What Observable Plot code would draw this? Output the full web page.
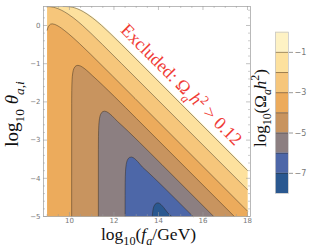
<!DOCTYPE html>
<html><head><meta charset="utf-8">
<script src="https://cdn.jsdelivr.net/npm/d3@7"></script>
<script src="https://cdn.jsdelivr.net/npm/@observablehq/plot@0.6"></script>
<style>
body{margin:0;background:#fff;}
#wrap{position:relative;width:311px;height:248px;}
#wrap svg{position:absolute;top:0;}
</style></head><body><div id="wrap"></div>
<script>
// ---- data: contours of log10(Omega_a h^2) in (log10 fa, log10 theta) ----
const xMin = 9, xMax = 18, yMin = -5, yMax = 0.497;
const cExcl = [[9.79,0.497],[9.912,0.496],[10.049,0.4914],[10.141,0.4843],[10.205,0.477],[10.301,0.4624],[10.379,0.447],[10.449,0.4314],[10.574,0.398],[10.69,0.3617],[10.86,0.301],[11.103,0.2],[11.316,0.1],[11.514,0],[11.883,-0.2],[12.41,-0.5],[13.272,-1],[18,-3.757]];
const cM1 = [[9.72,0.497],[9.844,0.496],[9.981,0.4914],[10.073,0.4843],[10.137,0.477],[10.233,0.4624],[10.311,0.447],[10.381,0.4314],[10.506,0.398],[10.622,0.3617],[10.792,0.301],[11.035,0.2],[11.248,0.1],[11.446,0],[11.815,-0.2],[12.342,-0.5],[13.204,-1],[18,-3.797]];
const cM2 = [[9,0.4958],[9.124,0.4914],[9.216,0.4843],[9.28,0.477],[9.376,0.4624],[9.454,0.447],[9.523,0.4314],[9.649,0.398],[9.765,0.3617],[9.935,0.301],[10.178,0.2],[10.391,0.1],[10.589,0],[10.958,-0.2],[11.485,-0.5],[12.347,-1],[18,-4.297]];
const cM3 = [[9,-0.122],[9.045,-0.035],[9.095,0.005],[9.145,0.033],[9.226,0.043],[9.345,0.028],[9.445,0.001],[9.545,-0.033],[9.645,-0.072],[9.795,-0.139],[9.945,-0.209],[10.195,-0.336],[10.445,-0.47],[10.945,-0.749],[11.945,-1.327],[12.945,-1.909],[18,-4.858]];
const cM4 = [[10.1,-5],[10.101,-2.048],[10.102,-1.899],[10.105,-1.702],[10.11,-1.555],[10.12,-1.413],[10.13,-1.333],[10.15,-1.238],[10.17,-1.18],[10.2,-1.126],[10.25,-1.078],[10.3,-1.054],[10.381,-1.043],[10.486,-1.058],[10.575,-1.086],[10.663,-1.122],[10.752,-1.163],[10.885,-1.232],[11.02,-1.307],[11.27,-1.439],[11.52,-1.577],[11.77,-1.718],[12.02,-1.86],[12.52,-2.149],[13.02,-2.44],[17.41,-5]];
const cM5 = [[11.3,-5],[11.301,-3.248],[11.302,-3.099],[11.305,-2.902],[11.31,-2.755],[11.32,-2.613],[11.33,-2.533],[11.35,-2.438],[11.37,-2.38],[11.4,-2.326],[11.45,-2.278],[11.5,-2.254],[11.581,-2.243],[11.674,-2.258],[11.753,-2.286],[11.831,-2.322],[11.91,-2.363],[12.028,-2.432],[12.15,-2.507],[12.4,-2.639],[12.65,-2.777],[12.9,-2.918],[13.15,-3.06],[13.65,-3.349],[14.15,-3.64],[16.483,-5]];
const cM6 = [[12.5,-5],[12.501,-4.448],[12.502,-4.299],[12.505,-4.102],[12.51,-3.955],[12.52,-3.813],[12.53,-3.733],[12.55,-3.638],[12.57,-3.58],[12.6,-3.526],[12.65,-3.478],[12.7,-3.454],[12.781,-3.443],[12.862,-3.458],[12.931,-3.486],[12.999,-3.522],[13.068,-3.563],[13.171,-3.632],[13.28,-3.707],[13.53,-3.839],[13.78,-3.977],[14.03,-4.118],[14.28,-4.26],[14.78,-4.549],[15.28,-4.84],[15.555,-5]];
const cM7 = [[13.721,-5],[13.73,-4.933],[13.75,-4.838],[13.77,-4.78],[13.8,-4.726],[13.85,-4.678],[13.9,-4.654],[13.981,-4.643],[14.052,-4.658],[14.112,-4.686],[14.172,-4.722],[14.232,-4.763],[14.322,-4.832],[14.42,-4.907],[14.596,-5]];

const bandLo = [-1,-2,-3,-4,-5,-6,-7,-8];
const bandHi = [0,-1,-2,-3,-4,-5,-6,-7];
const bandColors = ["#FEF2C4","#FDE19E","#F6C67B","#ECAB5C","#C8945F","#8C7F81","#4D67A8","#2A5890"];
const lineLevels = [-1,-2,-3,-4,-5,-6,-7];
const cbTicks = [-1,-3,-5,-7];

const xMajor = [10,12,14,16,18];
const xMinor = [9,9.5,10.5,11,11.5,12.5,13,13.5,14.5,15,15.5,16.5,17,17.5];
const yMajor = [-5,-4,-3,-2,-1,0];
const yMinor = [-4.8,-4.6,-4.4,-4.2,-3.8,-3.6,-3.4,-3.2,-2.8,-2.6,-2.4,-2.2,-1.8,-1.6,-1.4,-1.2,-0.8,-0.6,-0.4,-0.2,0.2,0.4];
const annot = [{x: 15.03, y: -1.55, text: "Excluded: Ωah2 > 0.12"}];

// ---- build filled sub-level polygons (nested, drawn light to dark) ----
const topClosed = c => [...c, [xMax, yMin], [xMin, yMin], [xMin, yMax]];
const edgeClosed = c => [...c, [xMax, yMin], [xMin, yMin]];
const polys = [
  {pts: topClosed(cExcl), fill: bandColors[0]},
  {pts: topClosed(cM1), fill: bandColors[1]},
  {pts: edgeClosed(cM2), fill: bandColors[2]},
  {pts: edgeClosed(cM3), fill: bandColors[3]},
  {pts: cM4, fill: bandColors[4]},
  {pts: cM5, fill: bandColors[5]},
  {pts: cM6, fill: bandColors[6]},
  {pts: cM7, fill: bandColors[7]}
];
const contourLines = [cM1, cM2, cM3, cM4, cM5, cM6, cM7];

const X = d => d[0], Y = d => d[1];
const minus = d => (d < 0 ? "\u2212" : "") + Math.abs(d);
const tickCol = "#9a9a9a";
const main = Plot.plot({
  width: 311, height: 248,
  marginLeft: 43, marginRight: 61, marginTop: 6, marginBottom: 32,
  style: {background: "transparent", fontFamily: "DejaVu Sans, sans-serif", fontSize: "7px"},
  x: {domain: [8.835, 18.135]},
  y: {domain: [yMin, yMax]},
  marks: [
    ...polys.map(p => Plot.line(p.pts, {x: X, y: Y, fill: p.fill, stroke: "none"})),
    ...contourLines.map(c => Plot.line(c, {x: X, y: Y, stroke: "#2b2218", strokeOpacity: 0.55, strokeWidth: 0.8})),
    Plot.text(annot, {x: "x", y: "y", text: "text", rotate: 45, fill: "#F03C36", fontSize: 18, fontFamily: "Liberation Serif, serif", className: "excl"}),
    Plot.frame({stroke: "#a8a8a8", strokeWidth: 0.8}),
    Plot.tickX(xMajor, {x: d => d, insetTop: 206, stroke: tickCol, strokeWidth: 0.6}),
    Plot.tickX(xMajor, {x: d => d, insetBottom: 206, stroke: tickCol, strokeWidth: 0.6}),
    Plot.tickX(xMinor, {x: d => d, insetTop: 208, stroke: tickCol, strokeWidth: 0.5}),
    Plot.tickX(xMinor, {x: d => d, insetBottom: 208, stroke: tickCol, strokeWidth: 0.5}),
    Plot.tickY(yMajor, {y: d => d, insetRight: 203, stroke: tickCol, strokeWidth: 0.6}),
    Plot.tickY(yMajor, {y: d => d, insetLeft: 203, stroke: tickCol, strokeWidth: 0.6}),
    Plot.tickY(yMinor, {y: d => d, insetRight: 205, stroke: tickCol, strokeWidth: 0.5}),
    Plot.tickY(yMinor, {y: d => d, insetLeft: 205, stroke: tickCol, strokeWidth: 0.5}),
    Plot.axisX({ticks: xMajor, tickSize: 0, tickPadding: 2, label: null, fill: "#777", tickFormat: minus}),
    Plot.axisY({ticks: yMajor, tickSize: 0, tickPadding: 3, label: null, fill: "#777", tickFormat: minus})
  ]
});

const bands = bandLo.map((lo, i) => ({lo, hi: bandHi[i], color: bandColors[i]}));
const cb = Plot.plot({
  width: 71, height: 248,
  marginLeft: 35, marginRight: 23, marginTop: 31.7, marginBottom: 55,
  style: {background: "transparent", fontFamily: "DejaVu Sans, sans-serif", fontSize: "8px"},
  x: {domain: [0, 1], axis: null},
  y: {domain: [-8, 0], axis: null},
  color: {type: "identity"},
  marks: [
    Plot.rect(bands, {x1: 0, x2: 1, y1: "lo", y2: "hi", fill: "color"}),
    Plot.ruleY(lineLevels, {stroke: "#2b2218", strokeOpacity: 0.55, strokeWidth: 0.8}),
    Plot.frame({stroke: "#c8c8c8", strokeWidth: 0.8}),
    Plot.axisY({anchor: "right", ticks: cbTicks, tickSize: 4, tickPadding: 2, label: null, stroke: tickCol, fill: "#777", tickFormat: minus})
  ]
});
cb.style.left = "240px";

const wrap = document.getElementById("wrap");
wrap.appendChild(main);
wrap.appendChild(cb);

// ---- math-style text with sub/superscripts ----
const SERIF = "Liberation Serif, Times New Roman, serif";
function fillMath(textSel, size, parts) {
  let shift = 0;
  for (const p of parts) {
    const target = p.sub ? size * 0.3 : p.sup ? -size * 0.4 : 0;
    const ts = textSel.append("tspan").attr("dy", target - shift).text(p.t);
    if (p.sub || p.sup) ts.attr("font-size", size * 0.7);
    if (p.it) ts.attr("font-style", "italic");
    shift = target;
  }
}
function addMath(svg, x, y, rot, size, parts, fill) {
  const t = d3.select(svg).append("text")
    .attr("transform", `translate(${x},${y}) rotate(${rot})`)
    .attr("text-anchor", "middle").attr("font-family", SERIF)
    .attr("font-size", size).attr("fill", fill);
  fillMath(t, size, parts);
}
addMath(main, 148.5, 240, 0, 17.5, [{t: "log"}, {t: "10", sub: true}, {t: "("}, {t: "f", it: true}, {t: "a", sub: true, it: true}, {t: "/GeV)"}], "#111");
addMath(main, 18, 114, -90, 19, [{t: "log"}, {t: "10", sub: true}, {t: " "}, {t: "θ", it: true}, {t: "a,i", sub: true, it: true}], "#111");
addMath(cb, 26, 108, -90, 17, [{t: "log"}, {t: "10", sub: true}, {t: "(Ω"}, {t: "a", sub: true, it: true}, {t: "h", it: true}, {t: "2", sup: true}, {t: ")"}], "#111");

const ex = d3.select(main).select(".excl text");
ex.text(null);
fillMath(ex, 18, [{t: "Excluded: Ω"}, {t: "a", sub: true, it: true}, {t: "h", it: true}, {t: "2", sup: true}, {t: " > 0.12"}]);
</script></body></html>
